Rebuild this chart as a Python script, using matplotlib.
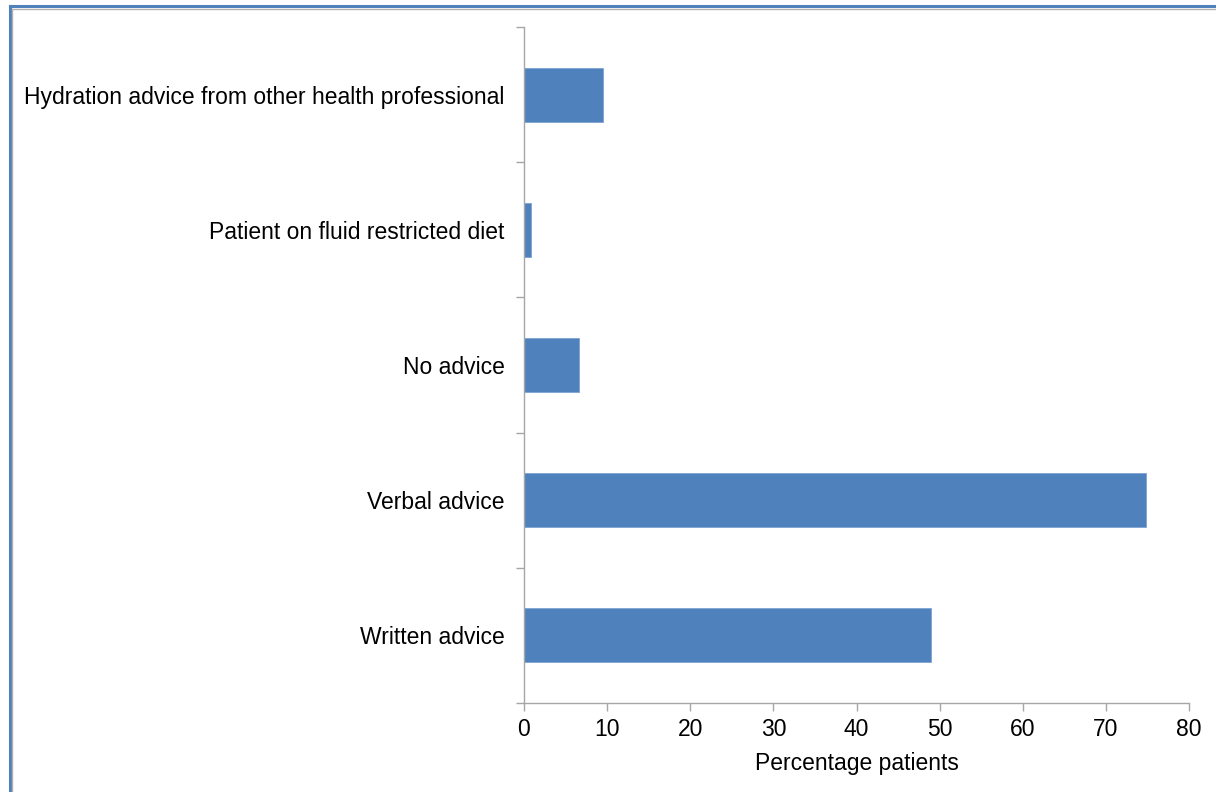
import matplotlib
matplotlib.use("Agg")
import matplotlib.pyplot as plt
from matplotlib.lines import Line2D
import numpy as np

plt.rcParams['font.family'] = ['Liberation Sans', 'DejaVu Sans']

categories = [
    "Written advice",
    "Verbal advice",
    "No advice",
    "Patient on fluid restricted diet",
    "Hydration advice from other health professional",
]
values = [49.0, 74.8, 6.6, 0.8, 9.5]
x_ticks = [0, 10, 20, 30, 40, 50, 60, 70, 80]
x_label = "Percentage patients"

bar_color = "#4F81BD"
axis_color = "#A6A6A6"
fs = 16.5

fig = plt.figure(figsize=(12.16, 7.92), dpi=100)
ax = fig.add_axes([524 / 1216, 1 - 703 / 792, (1189 - 524) / 1216, (703 - 27) / 792])

y = np.arange(len(categories))
ax.barh(y, values, height=0.4, color=bar_color, edgecolor="#7FA3D3", linewidth=0.6)

ax.set_xlim(0, 80)
ax.set_ylim(-0.5, len(categories) - 0.5)
ax.set_xticks(x_ticks)
ax.set_xticklabels([str(t) for t in x_ticks], fontsize=fs)
ax.set_xlabel(x_label, fontsize=fs, labelpad=8)

# category boundaries carry the tick marks, centres carry the labels
ax.set_yticks(np.arange(len(categories) + 1) - 0.5)
ax.set_yticklabels([])
ax.set_yticks(y, minor=True)
ax.set_yticklabels(categories, minor=True, fontsize=fs, va="center_baseline")
ax.tick_params(axis="y", which="major", length=6, width=1, color=axis_color, direction="out")
ax.tick_params(axis="y", which="minor", length=0, pad=14)
ax.tick_params(axis="x", length=6, width=1, color=axis_color, direction="out", pad=5)

for side in ("top", "right"):
    ax.spines[side].set_visible(False)
for side in ("left", "bottom"):
    ax.spines[side].set_color(axis_color)
    ax.spines[side].set_linewidth(1)

# chart-area frame along the top and left edges
W, H = 1216, 792
frame = [
    ((10 / W, 10 / W), (0, 1 - 6 / H), "#4F81BD", 2.2),
    ((10 / W, 1), (1 - 6 / H, 1 - 6 / H), "#4F81BD", 2.2),
    ((12 / W, 12 / W), (0, 1 - 8.5 / H), "#B0B0B0", 1.0),
    ((12 / W, 1), (1 - 8.5 / H, 1 - 8.5 / H), "#B0B0B0", 1.0),
]
for xs, ys, c, lw in frame:
    fig.add_artist(Line2D(xs, ys, transform=fig.transFigure, color=c, linewidth=lw))

fig.savefig("out.png", dpi=100)
